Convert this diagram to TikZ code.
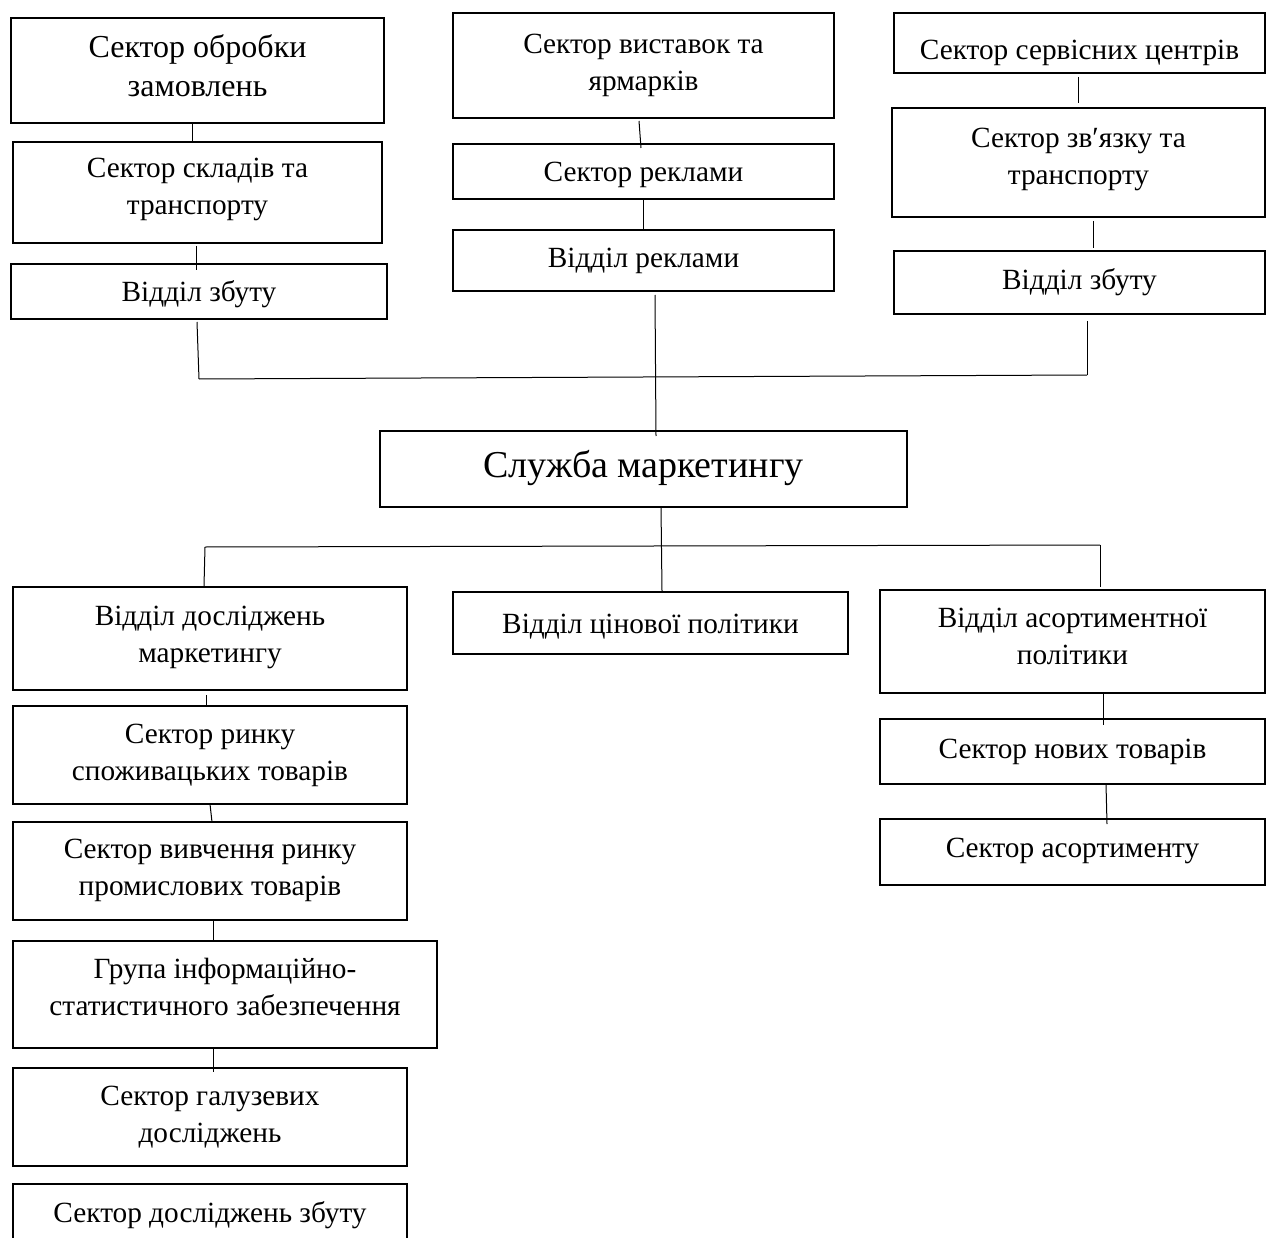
\documentclass[tikz,border=0pt]{standalone}
\usepackage{fontspec}
\setmainfont{Liberation Serif}
\usetikzlibrary{calc}
\begin{document}
\begin{tikzpicture}[x=1pt,y=-1pt,
  box/.style={draw, line width=2.4pt, inner sep=0pt, outer sep=0pt, align=center, anchor=north west,
    font=\fontsize{29.3}{37}\selectfont},
  bigbox/.style={box, font=\fontsize{32}{39}\selectfont},
  mainbox/.style={box, font=\fontsize{38}{44}\selectfont},
  tk/.style={text height=#1pt, text depth=0pt},
  conn/.style={line width=1pt}]
\useasboundingbox (0,0) rectangle (1268,1238);
% top left column
\node[bigbox, tk=53, minimum width=373pt, minimum height=105pt] (b1) at (11,18) {Сектор обробки\\замовлень};
\node[box, tk=45, minimum width=369pt, minimum height=101pt] (b2) at (13,142) {Сектор складів та\\транспорту};
\node[box, tk=21, minimum width=376pt, minimum height=55pt] (b3) at (11,264) {Відділ збуту};
% top middle column
\node[box, tk=50, minimum width=381pt, minimum height=105pt] (b4) at (453,13) {Сектор виставок та\\ярмарків};
\node[box, tk=21, minimum width=381pt, minimum height=55pt] (b5) at (453,144) {Сектор реклами};
\node[box, tk=15, minimum width=381pt, minimum height=61pt] (b6) at (453,230) {Відділ реклами};
% top right column
\node[box, tk=34, minimum width=371pt, minimum height=60pt] (b7) at (894,13) {Сектор сервісних центрів};
\node[box, tk=44, minimum width=373pt, minimum height=109pt] (b8) at (892,108) {Сектор зв′язку та\\транспорту};
\node[box, tk=15, minimum width=371pt, minimum height=63pt] (b9) at (894,251) {Відділ збуту};
% main
\node[mainbox, tk=16, minimum width=527pt, minimum height=76pt] (sm) at (380,431) {Служба маркетингу};
% bottom left column
\node[box, tk=47, minimum width=394pt, minimum height=103pt] (b10) at (13,587) {Відділ досліджень\\маркетингу};
\node[box, tk=50, minimum width=394pt, minimum height=98pt] (b11) at (13,706) {Сектор ринку\\споживацьких товарів};
\node[box, tk=48, minimum width=394pt, minimum height=98pt] (b12) at (13,822) {Сектор вивчення ринку\\промислових товарів};
\node[box, tk=41, minimum width=424pt, minimum height=107pt] (b13) at (13,941) {Група інформаційно-\\статистичного забезпечення};
\node[box, tk=50, minimum width=394pt, minimum height=98pt] (b14) at (13,1068) {Сектор галузевих\\досліджень};
\node[box, tk=18, minimum width=394pt, minimum height=58pt] (b15) at (13,1184) {Сектор досліджень збуту};
% bottom middle
\node[box, tk=20, minimum width=395pt, minimum height=62pt] (b19) at (453,592) {Відділ цінової політики};
% bottom right column
\node[box, tk=45, minimum width=385pt, minimum height=103pt] (b16) at (880,590) {Відділ асортиментної\\політики};
\node[box, tk=13, minimum width=385pt, minimum height=65pt] (b17) at (880,719) {Сектор нових товарів};
\node[box, tk=10, minimum width=385pt, minimum height=66pt] (b18) at (880,819) {Сектор асортименту};
% bus coordinates
\coordinate (busL) at ($(b3.south west)+(188,60)$);
\coordinate (busR) at ($(b9.south west)+(193,61)$);
\coordinate (botL) at ($(sm.south west)+(-175,40)$);
\coordinate (botR) at ($(sm.south west)+(720,38)$);
% top connectors
\draw[conn] ($(b1.south west)+(181,0)$) -- ($(b2.north west)+(179,0)$);
\draw[conn] ($(b2.south west)+(183,3)$) -- ($(b3.north west)+(185,6)$);
\draw[conn] ($(b3.south west)+(186,3)$) -- (busL);
\draw[conn] ($(b4.south west)+(186,3)$) -- ($(b5.north west)+(188,4)$);
\draw[conn] ($(b5.south west)+(190,0)$) -- ($(b6.north west)+(190,-1)$);
\draw[conn] ($(b6.south west)+(202,4)$) -- ($(sm.north west)+(276,5)$);
\draw[conn] ($(b7.south west)+(184,4)$) -- ($(b8.north west)+(186,-5)$);
\draw[conn] ($(b8.south west)+(201,4)$) -- ($(b9.north west)+(199,-3)$);
\draw[conn] ($(b9.south west)+(193,7)$) -- (busR);
\draw[conn] (busL) -- (busR);
% bottom connectors
\draw[conn] ($(sm.south west)+(281,0)$) -- ($(b19.north west)+(209,-1)$);
\draw[conn] (botL) -- (botR);
\draw[conn] (botL) -- ($(b10.north west)+(191,-1)$);
\draw[conn] (botR) -- ($(b16.north west)+(220,-3)$);
\draw[conn] ($(b10.south west)+(193,5)$) -- ($(b11.north west)+(193,-1)$);
\draw[conn] ($(b11.south west)+(197,0)$) -- ($(b12.north west)+(199,0)$);
\draw[conn] ($(b12.south west)+(200,0)$) -- ($(b13.north west)+(200,0)$);
\draw[conn] ($(b13.south west)+(200,0)$) -- ($(b14.north west)+(200,4)$);
\draw[conn] ($(b16.south west)+(223,0)$) -- ($(b17.north west)+(223,6)$);
\draw[conn] ($(b17.south west)+(226,0)$) -- ($(b18.north west)+(227,5)$);
\end{tikzpicture}
\end{document}
